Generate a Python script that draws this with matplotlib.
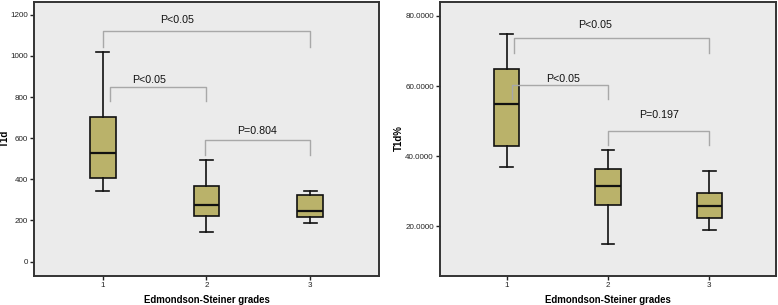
import matplotlib.pyplot as plt
import numpy as np

# box stats: grade 1, 2, 3
grades = ["1", "2", "3"]

t1d_low = [343, 142, 185]
t1d_q1 = [407, 222, 215]
t1d_med = [529, 273, 248]
t1d_q3 = [703, 369, 325]
t1d_high = [1019, 492, 345]

pct_low = [37.0, 15.0, 19.1]
pct_q1 = [42.9, 26.1, 22.3]
pct_med = [54.9, 31.5, 25.7]
pct_q3 = [64.9, 36.3, 29.4]
pct_high = [74.9, 41.8, 35.8]

# brackets: (x from, x to, bar y, drop y, label, label x, label y)
t1d_brackets = [
    (1.0, 3.0, 1121, 1046, "P<0.05", 1.72, 1176),
    (1.07, 2.0, 849, 779, "P<0.05", 1.45, 884),
    (1.99, 3.0, 591, 520, "P=0.804", 2.49, 636),
]
pct_brackets = [
    (1.076, 3.0, 73.6, 69.5, "P<0.05", 1.87, 77.5),
    (1.05, 2.0, 60.2, 56.2, "P<0.05", 1.56, 61.9),
    (2.0, 3.0, 47.2, 43.1, "P=0.197", 2.50, 51.7),
]

plt.rcParams["font.family"] = ["Liberation Sans", "DejaVu Sans"]

box_fill = "#bab26a"
bg = "#ebebeb"
frame = "#333333"
bracket_col = "#a8a8a8"


def draw_panel(ax, low, q1, med, q3, high, brackets, ylim, yticks, ytick_fmt, ylabel):
    stats = []
    for i in range(len(grades)):
        stats.append({"whislo": low[i], "q1": q1[i], "med": med[i],
                      "q3": q3[i], "whishi": high[i], "fliers": []})
    ax.bxp(stats, positions=[1, 2, 3], widths=0.25, patch_artist=True,
           showfliers=False,
           boxprops=dict(facecolor=box_fill, edgecolor="#111111", linewidth=1.2),
           medianprops=dict(color="#111111", linewidth=1.6),
           whiskerprops=dict(color="#111111", linewidth=1.2),
           capprops=dict(color="#111111", linewidth=1.2))

    for x0, x1, yb, yd, lab, lx, ly in brackets:
        ax.plot([x0, x0, x1, x1], [yd, yb, yb, yd], color=bracket_col, lw=1.0)
        ax.text(lx, ly, lab, ha="center", va="center", fontsize=7.7, color="#111111")

    ax.set_facecolor(bg)
    ax.set_xlim(0.34, 3.66)
    ax.set_ylim(*ylim)
    ax.set_xticks([1, 2, 3])
    ax.set_xticklabels(grades)
    ax.set_yticks(yticks)
    ax.set_yticklabels([ytick_fmt.format(v) for v in yticks])
    ax.tick_params(direction="out", length=3, width=1, labelsize=5.8,
                   color="#222222", labelcolor="#222222", pad=1.5)
    for s in ax.spines.values():
        s.set_color(frame)
        s.set_linewidth(1.4)
    ax.set_xlabel("Edmondson-Steiner grades", fontsize=6.9, fontweight="bold", labelpad=4.5)
    ax.set_ylabel(ylabel, fontsize=7, fontweight="bold")


fig = plt.figure(figsize=(7.78, 3.05), dpi=100)
ax1 = fig.add_axes([34 / 778, 29.5 / 305, 345 / 778, 274 / 305])
ax2 = fig.add_axes([440 / 778, 29.5 / 305, 336 / 778, 274 / 305])

draw_panel(ax1, t1d_low, t1d_q1, t1d_med, t1d_q3, t1d_high, t1d_brackets,
           (-68, 1265), np.arange(0, 1201, 200), "{:.0f}", "T1d")
draw_panel(ax2, pct_low, pct_q1, pct_med, pct_q3, pct_high, pct_brackets,
           (6.0, 84.1), np.arange(20, 81, 20), "{:.4f}", "T1d%")

# y label positions: right edge of rotated text, in axes fraction
ax1.yaxis.set_label_coords(-24 / 345, 0.5)
ax2.yaxis.set_label_coords(-36 / 336, 0.5)

fig.savefig("out.png", dpi=100)
